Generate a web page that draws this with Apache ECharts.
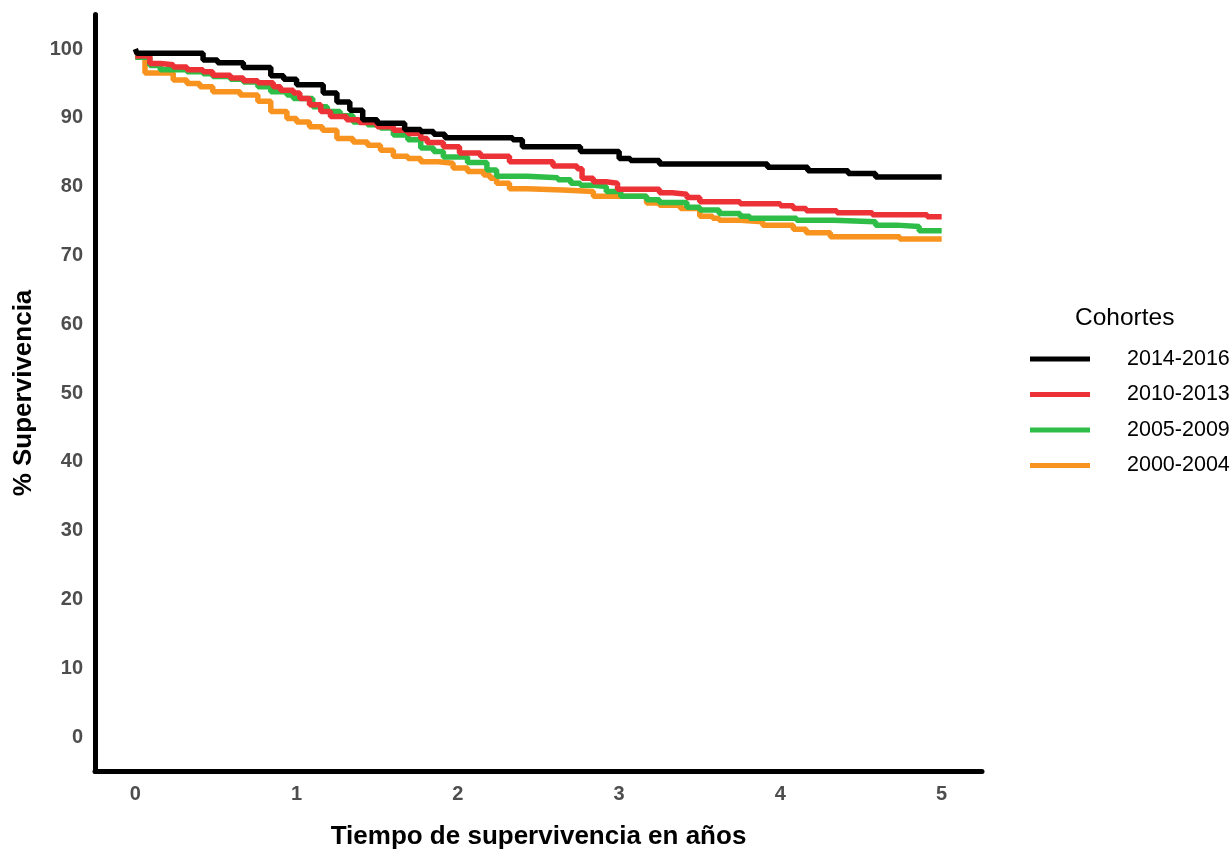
<!DOCTYPE html>
<html>
<head>
<meta charset="utf-8">
<script src="https://cdn.jsdelivr.net/npm/echarts@6/dist/echarts.min.js"></script>
<style>
  html, body { margin: 0; padding: 0; background: #fff; }
  #km { width: 1232px; height: 849px; }
</style>
</head>
<body>
<div id="km"></div>
<script>
// cohortes (orden de la leyenda)
var cohortes = ['2014-2016', '2010-2013', '2005-2009', '2000-2004'];
var colores = ['#000000', '#ED3237', '#2EBD47', '#F7931E'];

// [años, % supervivencia] — cada punto es donde cambia la curva
var s2014 = [[0, 100], [0.01, 99.4], [0.42, 98.4], [0.51, 98.0], [0.67, 97.3], [0.84, 96.1], [0.92, 95.6],
  [1.0, 94.8], [1.165, 93.6], [1.25, 92.3], [1.33, 91.1], [1.41, 89.7], [1.50, 89.2], [1.67, 88.3],
  [1.77, 88.0], [1.85, 87.6], [1.92, 87.1], [2.34, 86.8], [2.40, 85.8], [2.76, 85.1], [3.0, 84.1],
  [3.07, 83.8], [3.25, 83.3], [3.92, 82.8], [4.17, 82.3], [4.42, 81.9], [4.59, 81.4], [5.0, 81.4]];

var s2010 = [[0, 99.0], [0.09, 97.9], [0.155, 97.7], [0.235, 97.4], [0.32, 97.0], [0.42, 96.7], [0.48, 96.2],
  [0.59, 95.8], [0.67, 95.4], [0.76, 95.1], [0.855, 94.5], [0.90, 94.0], [0.98, 93.6], [1.02, 92.8],
  [1.08, 91.9], [1.15, 90.9], [1.21, 90.2], [1.31, 89.7], [1.39, 89.3], [1.50, 88.7], [1.60, 88.2],
  [1.69, 87.7], [1.77, 87.0], [1.81, 86.4], [1.91, 85.8], [2.01, 84.9], [2.14, 84.4], [2.32, 83.6],
  [2.59, 83.0], [2.74, 82.6], [2.77, 81.2], [2.84, 80.7], [2.92, 80.5], [2.99, 79.6], [3.25, 79.1],
  [3.33, 78.9], [3.42, 78.4], [3.50, 77.8], [3.75, 77.5], [4.0, 77.2], [4.08, 76.8], [4.16, 76.5],
  [4.35, 76.2], [4.57, 75.9], [4.91, 75.6], [5.0, 75.6]];

var s2005 = [[0, 98.8], [0.09, 97.6], [0.155, 97.0], [0.32, 96.7], [0.42, 96.4], [0.48, 96.0], [0.59, 95.6],
  [0.67, 95.2], [0.76, 94.5], [0.84, 93.8], [0.94, 93.3], [0.98, 92.8], [1.10, 91.6], [1.19, 90.9],
  [1.27, 90.3], [1.35, 89.4], [1.44, 89.0], [1.52, 88.5], [1.60, 87.5], [1.69, 86.8], [1.77, 85.6],
  [1.85, 85.1], [1.91, 84.3], [2.06, 83.5], [2.18, 82.4], [2.24, 81.5], [2.43, 81.3], [2.62, 81.0],
  [2.70, 80.5], [2.76, 80.2], [2.84, 80.0], [2.92, 79.3], [3.01, 78.6], [3.17, 78.1], [3.25, 77.7],
  [3.42, 77.0], [3.50, 76.6], [3.62, 76.1], [3.75, 75.7], [3.81, 75.4], [4.10, 75.1], [4.33, 74.9],
  [4.59, 74.4], [4.72, 74.2], [4.86, 73.6], [5.0, 73.6]];

var s2000 = [[0, 98.8], [0.06, 96.5], [0.235, 95.5], [0.32, 95.0], [0.40, 94.5], [0.48, 93.8], [0.65, 93.3],
  [0.76, 92.4], [0.84, 90.9], [0.94, 89.9], [1.0, 89.4], [1.08, 88.7], [1.16, 88.2], [1.25, 87.0],
  [1.35, 86.5], [1.44, 86.0], [1.52, 85.3], [1.60, 84.4], [1.69, 84.1], [1.77, 83.6], [1.88, 83.4],
  [1.97, 82.7], [2.06, 82.2], [2.16, 81.7], [2.20, 81.2], [2.24, 80.5], [2.32, 79.7], [2.43, 79.5],
  [2.65, 79.3], [2.84, 78.6], [3.17, 77.6], [3.25, 77.3], [3.38, 76.8], [3.50, 75.7], [3.58, 75.4],
  [3.62, 75.1], [3.75, 74.9], [3.89, 74.4], [4.08, 73.8], [4.16, 73.3], [4.31, 72.7], [4.74, 72.4],
  [5.0, 72.4]];

var ticksX = [0, 1, 2, 3, 4, 5];
var ticksY = [0, 10, 20, 30, 40, 50, 60, 70, 80, 90, 100];

var fuente = '"Liberation Sans", Arial, sans-serif';
var chart = echarts.init(document.getElementById('km'));

function serie(nombre, datos, color) {
  return {
    name: nombre,
    type: 'line',
    step: 'end',
    showSymbol: false,
    symbol: 'none',
    data: datos,
    lineStyle: { color: color, width: 5.5 },
    itemStyle: { color: color },
    animation: false
  };
}

chart.setOption({
  animation: false,
  textStyle: { fontFamily: fuente },
  title: {
    text: 'Cohortes',
    left: 1075,
    top: 306,
    padding: 0,
    textStyle: { fontFamily: fuente, fontSize: 24.5, fontWeight: 'normal', color: '#000' }
  },
  legend: {
    data: cohortes,
    orient: 'vertical',
    left: 1030,
    top: 348,
    padding: 0,
    itemWidth: 60,
    itemHeight: 5,
    itemGap: 13.5,
    icon: 'rect',
    textStyle: { fontFamily: fuente, fontSize: 21.5, color: '#000', lineHeight: 21, padding: [0, 0, 0, 32] }
  },
  grid: { left: 95, right: 250, top: 14.6, bottom: 77.6, containLabel: false, outerBoundsMode: 'none' },
  xAxis: {
    type: 'value',
    min: -0.25,
    max: 5.25,
    interval: 0.25,
    name: 'Tiempo de supervivencia en años',
    nameLocation: 'middle',
    nameGap: 52,
    nameTextStyle: { fontFamily: fuente, fontSize: 26, fontWeight: 'bold', color: '#000' },
    axisLine: { show: true, onZero: false, lineStyle: { color: '#000', width: 5 } },
    axisTick: { show: false },
    splitLine: { show: false },
    axisLabel: {
      margin: 13,
      fontFamily: fuente,
      fontSize: 20,
      fontWeight: 'bold',
      color: '#4D4D4D',
      formatter: function (v) {
        var r = Math.round(v);
        return (Math.abs(v - r) < 1e-6 && ticksX.indexOf(r) >= 0) ? String(r) : '';
      }
    }
  },
  yAxis: {
    type: 'value',
    min: -5,
    max: 105,
    interval: 5,
    name: '% Supervivencia',
    nameLocation: 'middle',
    nameGap: 58,
    nameTextStyle: { fontFamily: fuente, fontSize: 26, fontWeight: 'bold', color: '#000' },
    axisLine: { show: true, onZero: false, lineStyle: { color: '#000', width: 5 } },
    axisTick: { show: false },
    splitLine: { show: false },
    axisLabel: {
      margin: 12,
      fontFamily: fuente,
      fontSize: 20,
      fontWeight: 'bold',
      color: '#4D4D4D',
      formatter: function (v) {
        var r = Math.round(v);
        return (Math.abs(v - r) < 1e-6 && ticksY.indexOf(r) >= 0) ? String(r) : '';
      }
    }
  },
  series: [
    serie(cohortes[3], s2000, colores[3]),
    serie(cohortes[2], s2005, colores[2]),
    serie(cohortes[1], s2010, colores[1]),
    serie(cohortes[0], s2014, colores[0])
  ]
});
</script>
</body>
</html>
